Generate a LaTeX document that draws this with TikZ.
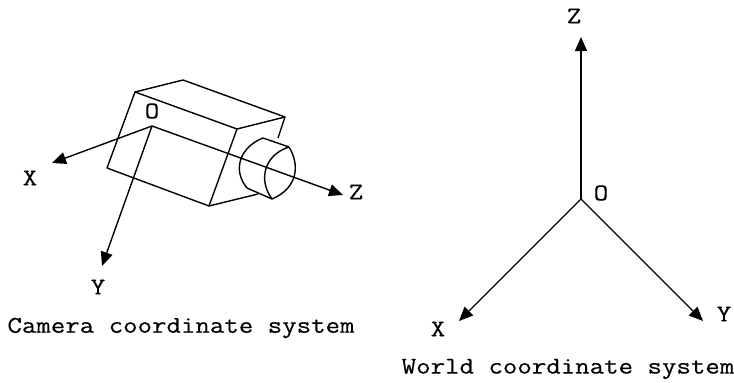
\documentclass[tikz,border=0pt]{standalone}
\usepackage{fontspec}
\setmonofont[FakeStretch=1.17,FakeBold=0.4]{Latin Modern Mono}
\usepackage{tikz}
\usetikzlibrary{arrows.meta}
\tikzset{
  axis/.style={-{Triangle[length=14pt,width=12pt]}},
  lbl/.style={inner sep=0pt, font=\fontsize{24}{26}\selectfont\ttfamily},
}

\begin{document}
\begin{tikzpicture}[x=1pt, y=-1pt, line width=1.4pt, line join=round]

\useasboundingbox (0, 0) rectangle (734, 383);

% camera
\draw (135, 92) -- (183, 80) -- (285, 117) -- (237, 129) -- cycle;
\draw (135, 92) -- (107, 168) -- (209, 206) -- (237, 129);
\draw (285, 117) -- (278, 138);
\draw (209, 206) -- (258, 194);
\draw (263, 138) .. controls (240, 147) and (232, 170) .. (247, 188);
\draw (263, 138) -- (289, 147);
\draw (247, 188) -- (272, 199);
\draw (289, 147) .. controls (264, 155) and (258, 180) .. (272, 199);
\draw (289, 147) .. controls (300, 165) and (298, 188) .. (272, 199);

% camera axes
\coordinate (co) at (152, 126);
\coordinate (cx) at (52, 163);
\coordinate (cy) at (102, 266);
\coordinate (cz) at (343, 195);
\draw[axis] (co) -- (cx);
\draw[axis] (co) -- (cy);
\draw[axis] (co) -- (cz);
\node[lbl] (colabel) at (152, 111) {O};
\node[lbl] (cxlabel) at (30, 178) {X};
\node[lbl] (cylabel) at (98, 287) {Y};
\node[lbl] (czlabel) at (356, 192) {Z};
\node[lbl] (camera) at (181, 328) {Camera coordinate system};

% world axes
\coordinate (wo) at (581, 199);
\coordinate (wx) at (459, 321);
\coordinate (wy) at (703, 321);
\coordinate (wz) at (581, 37);
\draw[axis] (wo) -- (wx);
\draw[axis] (wo) -- (wy);
\draw[axis] (wo) -- (wz);
\node[lbl] (wolabel) at (601, 193) {O};
\node[lbl] (wxlabel) at (438, 329) {X};
\node[lbl] (wylabel) at (724, 314) {Y};
\node[lbl] (wzlabel) at (574, 16) {Z};
\node[lbl] (world) at (568, 369) {World coordinate system};

\end{tikzpicture}
\end{document}
